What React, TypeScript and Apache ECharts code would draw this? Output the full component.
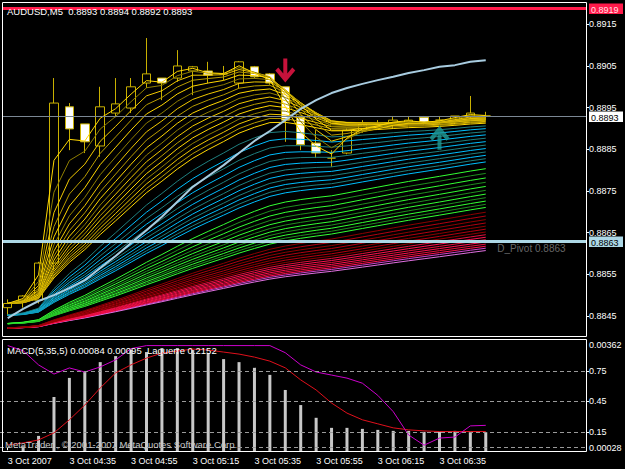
import React, { useEffect, useRef } from 'react';
import * as echarts from 'echarts';

// ---------- data ----------
const categories = [
  '04:15', '04:20', '04:25', '04:30', '04:35', '04:40', '04:45', '04:50', '04:55', '05:00',
  '05:05', '05:10', '05:15', '05:20', '05:25', '05:30', '05:35', '05:40', '05:45', '05:50',
  '05:55', '06:00', '06:05', '06:10', '06:15', '06:20', '06:25', '06:30', '06:35', '06:40',
  '06:45', '06:50', '06:55', '07:00', '07:05', '07:10', '07:15', '07:20',
];
const dateLabel = '3 Oct 2007';
const dayPrefix = '3 Oct ';
const lastLabelIndex = 28;

const opens = [0.8847, 0.88484, 0.88488, 0.88577, 0.88952, 0.88911, 0.88858, 0.88937, 0.88949, 0.89009,
  0.89021, 0.89021, 0.89038, 0.89038, 0.89031, 0.89009, 0.89048, 0.89031, 0.89000, 0.88927,
  0.88865, 0.88829, 0.88841, 0.88896, 0.8891, 0.8891, 0.88913, 0.88927, 0.8892, 0.8892, 0.8893, 0.8893];
const closes = [0.8848, 0.88498, 0.88577, 0.88961, 0.88899, 0.88868, 0.88952, 0.88959, 0.89000, 0.89031,
  0.89009, 0.89050, 0.89048, 0.89028, 0.89031, 0.89060, 0.89024, 0.89009, 0.88920, 0.88861,
  0.88841, 0.88829, 0.88896, 0.8891, 0.8891, 0.8892, 0.8892, 0.88913, 0.8892, 0.8893, 0.88937, 0.8893];
const lows = [0.8845, 0.8847, 0.8848, 0.8856, 0.88848, 0.88841, 0.88832, 0.88927, 0.88937, 0.88997,
  0.88968, 0.89012, 0.88980, 0.89009, 0.89016, 0.88997, 0.89020, 0.89005, 0.88868, 0.88848,
  0.88829, 0.88808, 0.88838, 0.8889, 0.8890, 0.8890, 0.8891, 0.8891, 0.8891, 0.8891, 0.8892, 0.8892];
const highs = [0.8849, 0.8850, 0.8858, 0.89021, 0.88961, 0.88911, 0.89000, 0.89021, 0.89021, 0.89117,
  0.89021, 0.89088, 0.89050, 0.89060, 0.8905, 0.89062, 0.89050, 0.89033, 0.89000, 0.88930,
  0.88896, 0.88848, 0.88900, 0.8892, 0.8892, 0.8893, 0.8893, 0.8893, 0.8893, 0.8893, 0.88978, 0.8894];

// slow light-blue moving average
const slowMa = [0.88445, 0.88467, 0.88486, 0.88500, 0.88517, 0.88536, 0.88565, 0.88594, 0.88625, 0.88656,
  0.88688, 0.88724, 0.88760, 0.88786, 0.88812, 0.88841, 0.88870, 0.88894, 0.88920, 0.88947,
  0.88968, 0.88985, 0.88997, 0.89007, 0.89016, 0.89024, 0.89033, 0.89040, 0.89048, 0.89052, 0.89060, 0.89064];

// rainbow of exponential moving averages of the closes
const yellowPeriods = [2, 3, 4, 5, 6, 7, 8, 9, 10, 11, 12, 13, 14, 15, 16, 17, 18];
const bluePeriods = [20, 22, 24, 26, 28, 30, 32, 34, 36, 38, 40, 42];
const greenPeriods = [45, 48, 51, 54, 57, 60, 63, 66, 69, 72, 75];
const darkRedPeriods = [78, 82, 86, 90, 94, 98, 102];
const crimsonPeriods = [106, 110, 114, 118, 122, 126];
const magentaPeriods = [130, 135];
const yellowStart = 0.8848;
const blueStart = 0.8845;
const greenStart = 0.8843;
const redStart = 0.8842;

const priceTicks = [0.8845, 0.8855, 0.8865, 0.8875, 0.8885, 0.8895, 0.8905, 0.8915];
const highLine = 0.8919;
const bidLine = 0.8893;
const pivotLine = 0.8863;
const priceLevels = [highLine, bidLine, pivotLine];
const pivotText = 'D_Pivot 0.8863';
const sellArrow = [18, 0.89039];
const buyArrow = [28, 0.88878];

const macdHist = [0.00020, 0.00045, 0.00076, 0.00192, 0.00249, 0.00267, 0.00296, 0.00314, 0.00332, 0.00326,
  0.00338, 0.00338, 0.00332, 0.00323, 0.00305, 0.00296, 0.00279, 0.00258, 0.00213, 0.00168,
  0.00130, 0.00100, 0.00100, 0.00097, 0.00094, 0.00091, 0.00091, 0.00088, 0.00088, 0.00091, 0.00088, 0.00087];
const macdSignal = [0.00049, 0.00055, 0.00064, 0.00085, 0.00124, 0.00168, 0.00219, 0.00264, 0.00288, 0.00308,
  0.00323, 0.00329, 0.00335, 0.00332, 0.00326, 0.00320, 0.00311, 0.00299, 0.00279, 0.00243,
  0.00213, 0.00174, 0.00144, 0.00124, 0.00112, 0.00100, 0.00094, 0.00091, 0.00089, 0.00089, 0.00089, 0.00089];
const laguerre = [1.0, 0.95, 0.81, 0.72, 0.78, 0.74, 0.79, 0.86, 0.97, 1.0,
  1.0, 1.0, 1.0, 1.0, 1.0, 1.0, 1.0, 1.0, 0.93, 0.81,
  0.74, 0.71, 0.68, 0.63, 0.51, 0.35, 0.12, 0.02, 0.09, 0.10, 0.21, 0.2152];
const laguerreLevels = [0.15, 0.45, 0.75];
const laguerreDashLevels = [0, 0.15, 0.45, 0.75];
const macdTop = 0.00362;
const macdBottom = 0.00028;

const headerText = 'AUDUSD,M5  0.8893 0.8894 0.8892 0.8893';
const subHeaderText = 'MACD(5,35,5) 0.00084 0.00095  Laguerre 0.2152';
const copyrightText = 'MetaTrader , \u00a9 2001-2007 MetaQuotes Software Corp.';

// ---------- helpers ----------
function ema(src: number[], period: number, start: number): number[] {
  const k = 2 / (period + 1);
  const out: number[] = [];
  let e = start;
  for (const v of src) {
    e += k * (v - e);
    out.push(e);
  }
  return out;
}

const FONT = '"Liberation Sans", Arial, sans-serif';
const levelStyles = [
  { line: '#ff1a4a', width: 3, box: '#ff1a4a', text: '#ffe0e6' },
  { line: '#7b8794', width: 1, box: '#ffffff', text: '#000000' },
  { line: '#add8e6', width: 3, box: '#add8e6', text: '#000000' },
];

export default function App() {
  const ref = useRef<HTMLDivElement>(null);
  useEffect(() => {
    if (!ref.current) return;
    const chart = echarts.init(ref.current, null, { renderer: 'svg' });

    const slot = 583 / 37.5;
    const gridLeft = 3 - slot / 2;

    const rainbow: any[] = [];
    const addGroup = (periods: number[], start: number, colors: string[]) => {
      periods.forEach((p, j) => {
        rainbow.push({
          type: 'line', xAxisIndex: 0, yAxisIndex: 0, silent: true, z: 2,
          data: ema(closes, p, start), symbol: 'none',
          lineStyle: { width: 1, color: colors[j % colors.length] },
        });
      });
    };
    addGroup(magentaPeriods, redStart, ['#cc44cc', '#e070e0']);
    addGroup(crimsonPeriods.slice().reverse(), redStart, ['#ff1050', '#e0103c']);
    addGroup(darkRedPeriods.slice().reverse(), redStart, ['#8b0000', '#b00010']);
    addGroup(greenPeriods.slice().reverse(), greenStart, ['#33ff33', '#1f8f1f']);
    addGroup(bluePeriods.slice().reverse(), blueStart, ['#00bfff', '#1f7f7f']);
    addGroup(yellowPeriods.slice().reverse(), yellowStart, ['#ffd700', '#b89c00', '#f0c800', '#8f7e00']);

    const labelShown = (i: number) => i % 4 === 0 && i <= lastLabelIndex;
    const axisFont = { color: '#fff', fontSize: 9, fontFamily: FONT };

    const option: any = {
      animation: false,
      backgroundColor: '#000',
      textStyle: { fontFamily: FONT },
      grid: [
        { left: gridLeft, right: 39, top: 3, height: 333 },
        { left: gridLeft, right: 39, top: 340, height: 112 },
      ],
      xAxis: [
        { type: 'category', gridIndex: 0, data: categories, boundaryGap: true, show: false },
        {
          type: 'category', gridIndex: 1, data: categories, boundaryGap: true,
          axisLine: { show: false },
          axisTick: { show: true, alignWithLabel: true, interval: (i: number) => labelShown(i), length: 3, lineStyle: { color: '#fff' } },
          axisLabel: {
            interval: (i: number) => labelShown(i),
            formatter: (v: string, i: number) => (i === 0 ? dateLabel : dayPrefix + v),
            align: 'left', margin: 4, ...axisFont,
          },
          splitLine: { show: false },
        },
      ],
      yAxis: [
        {
          type: 'value', gridIndex: 0, position: 'right', min: 0.88402, max: 0.892011,
          axisLine: { show: false }, splitLine: { show: false },
          axisTick: { show: true, customValues: priceTicks, length: 3, lineStyle: { color: '#fff' } },
          axisLabel: { customValues: priceTicks, formatter: (v: number) => v.toFixed(4), margin: 3, padding: [0, 0, 2, 0], ...axisFont },
        },
        {
          type: 'value', gridIndex: 1, position: 'right', min: macdBottom, max: macdTop,
          axisLine: { show: false }, splitLine: { show: false }, axisTick: { show: false },
          axisLabel: { customValues: [macdTop], formatter: (v: number) => v.toFixed(5), verticalAlign: 'top', margin: 3, ...axisFont },
        },
        {
          type: 'value', gridIndex: 1, position: 'right', min: macdBottom, max: macdTop,
          axisLine: { show: false }, splitLine: { show: false }, axisTick: { show: false },
          axisLabel: { customValues: [macdBottom], formatter: (v: number) => v.toFixed(5), verticalAlign: 'bottom', margin: 3, ...axisFont },
        },
        {
          type: 'value', gridIndex: 1, position: 'right', min: -0.047, max: 1.055,
          axisLine: { show: false }, splitLine: { show: false },
          axisTick: { show: true, customValues: laguerreLevels, length: 3, lineStyle: { color: '#fff' } },
          axisLabel: { customValues: laguerreLevels, formatter: (v: number) => String(v), margin: 3, ...axisFont },
        },
      ],
      series: [
        {
          type: 'candlestick', xAxisIndex: 0, yAxisIndex: 0, z: 1, barWidth: 9, silent: true,
          data: opens.map((o, i) => [o, closes[i], lows[i], highs[i]]),
          itemStyle: { color: '#000', color0: '#ffffff', borderColor: '#c8b000', borderColor0: '#c8b000', borderWidth: 1 },
        },
        ...rainbow,
        {
          type: 'line', xAxisIndex: 0, yAxisIndex: 0, z: 4, silent: true, symbol: 'none',
          data: slowMa, lineStyle: { width: 2, color: '#a8cce0' },
        },
        {
          type: 'custom', xAxisIndex: 0, yAxisIndex: 0, z: 5, silent: true, clip: false,
          data: priceLevels.map((v) => [0, v]),
          renderItem: (params: any, api: any) => {
            const i = params.dataIndex;
            const cs = params.coordSys;
            const val = api.value(1) as number;
            const y = Math.round(api.coord([0, val])[1]) + 0.5;
            const st = levelStyles[i];
            return {
              type: 'group',
              children: [
                { type: 'line', shape: { x1: 3, y1: y, x2: cs.x + cs.width, y2: y }, style: { stroke: st.line, lineWidth: st.width } },
                { type: 'rect', shape: { x: 589, y: y - 5, width: 34, height: 10.5 }, style: { fill: st.box } },
                { type: 'text', style: { text: val.toFixed(4), x: 591, y: y + 1, verticalAlign: 'middle', fill: st.text, font: '9px ' + FONT } },
              ],
            };
          },
        },
        {
          type: 'scatter', xAxisIndex: 0, yAxisIndex: 0, z: 6, silent: true,
          data: [sellArrow],
          symbol: 'path://M8,0 L12,0 L12,15 L17,9 L20,12 L10,24 L0,12 L3,9 L8,15 Z',
          symbolSize: [20, 24], itemStyle: { color: '#f8174a' },
        },
        {
          type: 'scatter', xAxisIndex: 0, yAxisIndex: 0, z: 6, silent: true,
          data: [buyArrow],
          symbol: 'path://M8,24 L12,24 L12,9 L17,15 L20,12 L10,0 L0,12 L3,15 L8,9 Z',
          symbolSize: [20, 24], itemStyle: { color: '#1f9a96' },
        },
        {
          type: 'scatter', xAxisIndex: 0, yAxisIndex: 0, z: 6, silent: true,
          data: [[32, pivotLine]], symbolSize: 0,
          label: { show: true, formatter: pivotText, position: [-4, 3], align: 'left', verticalAlign: 'top', color: '#808080', fontSize: 10, fontFamily: FONT },
        },
        {
          type: 'bar', xAxisIndex: 1, yAxisIndex: 2, barWidth: 3, silent: true,
          data: macdHist, itemStyle: { color: '#c8c8c8' },
        },
        {
          type: 'line', xAxisIndex: 1, yAxisIndex: 2, symbol: 'none', silent: true, z: 3,
          data: macdSignal, lineStyle: { width: 1, color: '#e0101c' },
        },
        {
          type: 'line', xAxisIndex: 1, yAxisIndex: 3, symbol: 'none', silent: true, z: 3,
          data: laguerre, lineStyle: { width: 1, color: '#cc00cc' },
          markLine: {
            silent: true, symbol: 'none', animation: false, label: { show: false },
            lineStyle: { color: '#9a9a9a', width: 1, type: [4, 3] },
            data: laguerreDashLevels.map((v) => ({ yAxis: v })),
          },
        },
      ],
      graphic: [
        { type: 'rect', z: 100, silent: true, shape: { x: 2.5, y: 2.5, width: 584, height: 334 }, style: { stroke: '#ffffff', fill: 'transparent', lineWidth: 1 } },
        { type: 'rect', z: 100, silent: true, shape: { x: 2.5, y: 339.5, width: 584, height: 112 }, style: { stroke: '#ffffff', fill: 'transparent', lineWidth: 1 } },
        { type: 'text', z: 100, silent: true, left: 7, top: 6, style: { text: headerText, fill: '#ffffff', font: '9.5px ' + FONT } },
        { type: 'text', z: 100, silent: true, left: 7, top: 345, style: { text: subHeaderText, fill: '#ffffff', font: '9.5px ' + FONT } },
        { type: 'text', z: 100, silent: true, left: 5, top: 439, style: { text: copyrightText, fill: '#c8c8c8', font: '9.5px ' + FONT } },
      ],
    };
    chart.setOption(option);
    return () => chart.dispose();
  }, []);

  return (
    <div
      ref={ref}
      style={{ position: 'fixed', left: 0, top: 0, width: 625, height: 469, background: '#000' }}
    />
  );
}
